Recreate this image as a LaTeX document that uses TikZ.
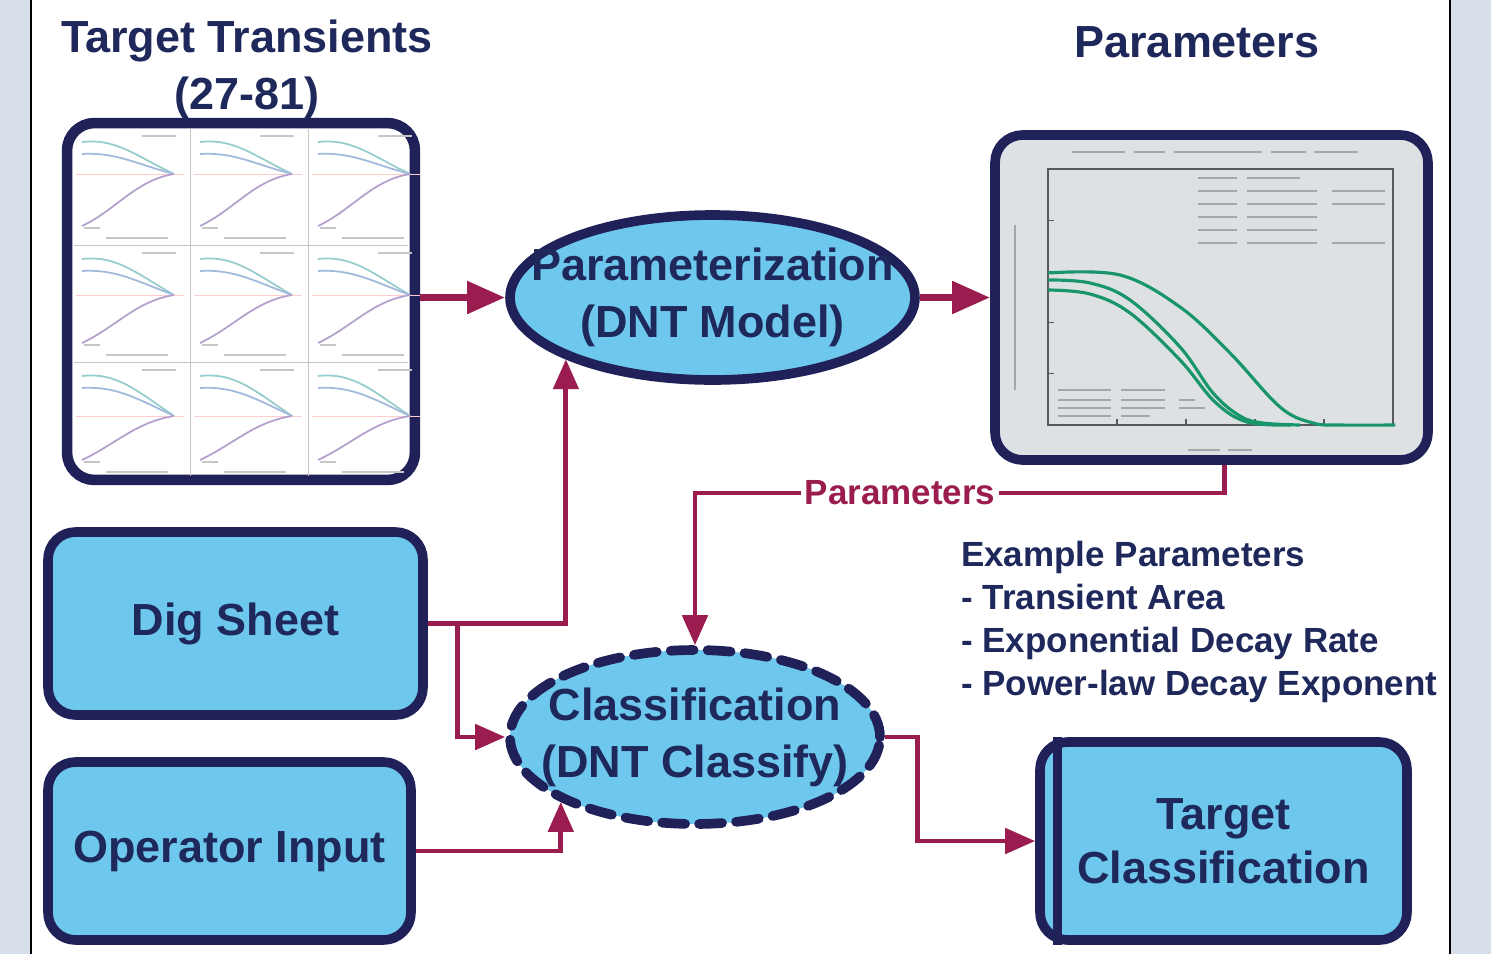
\documentclass[tikz,border=0pt]{standalone}
\usepackage{fontspec}
\setmainfont{Liberation Sans}
\usetikzlibrary{arrows.meta,shapes.geometric,calc}
\definecolor{navy}{RGB}{31,33,88}
\definecolor{txtnavy}{RGB}{30,40,90}
\definecolor{boxfill}{RGB}{110,200,238}
\definecolor{maroon}{RGB}{155,28,78}
\definecolor{bandgray}{RGB}{214,222,234}
\definecolor{plotgray}{RGB}{222,225,228}
\definecolor{curvegreen}{RGB}{25,150,105}
\definecolor{thumbteal}{RGB}{150,205,205}
\definecolor{thumbblue}{RGB}{160,185,220}
\definecolor{thumbpurple}{RGB}{180,160,205}
\begin{document}
\begin{tikzpicture}[x=0.02cm,y=-0.02cm,
  box/.style={draw=navy, line width=5.5pt, fill=boxfill, rounded corners=0.55cm, inner sep=0pt},
  big/.style={text=txtnavy, font=\fontsize{25.6}{32.4}\selectfont\bfseries},
  mid/.style={text=txtnavy, font=\fontsize{19.9}{24.5}\selectfont\bfseries},
  mainarrow/.style={draw=maroon, line width=4.5pt, -{Triangle[length=0.76cm,width=0.62cm]}},
  conn/.style={draw=maroon, line width=2.8pt},
  connarrow/.style={conn, -{Triangle[length=0.6cm,width=0.5cm]}},
  faint/.style={draw=gray!45, line width=0.5pt},
  textline/.style={draw=gray!70, line width=1.6pt}
]
\useasboundingbox (0,0) rectangle (1491,954);
% background
\fill[white] (0,0) rectangle (1491,954);
\fill[bandgray] (0,0) rectangle (31,954);
\fill[bandgray] (1450,0) rectangle (1491,954);
\draw[black, line width=1.2pt] (31,0) -- (31,954);
\draw[black, line width=1.2pt] (1450,0) -- (1450,954);

% titles
\node[big, align=center] (ttitle) at (247,69) {Target Transients\\(27-81)};
\node[big] (ptitle) at (1197,42) {Parameters};

% transients box with thumbnails
\node[box, fill=white, line width=6pt, minimum width=6.96cm, minimum height=7.14cm] (trans) at (241,301.5) {};
\draw[faint] (190,128) -- (190,476);
\draw[faint] (308,128) -- (308,476);
\draw[faint] (74,245) -- (408,245);
\draw[faint] (74,362) -- (408,362);
\foreach \r in {0,1,2}{
  \foreach \c in {0,1,2}{
    \pgfmathsetmacro{\xo}{76+\c*118}
    \pgfmathsetmacro{\yo}{130+\r*117}
    \pgfmathsetmacro{\ym}{\yo+44+\r*4}
    \draw[draw=red!20, line width=0.5pt] (\xo,\ym) -- ({\xo+108},\ym);
    \draw[thumbteal, line width=1pt] ({\xo+6},{\yo+12}) .. controls ({\xo+40},{\yo+8}) and ({\xo+60},{\yo+26}) .. ({\xo+98},\ym);
    \draw[thumbblue, line width=1pt] ({\xo+6},{\yo+24}) .. controls ({\xo+40},{\yo+22}) and ({\xo+60},{\yo+34}) .. ({\xo+98},\ym);
    \draw[thumbpurple, line width=1pt] ({\xo+6},{\yo+96}) .. controls ({\xo+40},{\yo+80}) and ({\xo+60},{\ym+6}) .. ({\xo+98},\ym);
    \draw[gray!45, line width=1pt] ({\xo+8},{\yo+98}) -- ({\xo+24},{\yo+98});
    \draw[gray!45, line width=1pt] ({\xo+30},{\yo+108}) -- ({\xo+92},{\yo+108});
    \draw[gray!45, line width=1pt] ({\xo+66},{\yo+6}) -- ({\xo+100},{\yo+6});
  }
}

% parameterization ellipse
\node[ellipse, draw=navy, line width=5.5pt, fill=boxfill, minimum width=8.1cm, minimum height=3.3cm, inner sep=0pt] (param) at (712.5,297.5) {};
\node[big, align=center] (paramtxt) at (param) {Parameterization\\(DNT Model)};

% parameters plot box
\node[box, fill=plotgray, minimum width=8.66cm, minimum height=6.5cm] (pbox) at (1211.5,297.5) {};
\draw[gray!70!black, line width=0.7pt] (1048,169) rectangle (1393,425);
\foreach \t in {0,1,2,3,4,5}{
  \draw[gray!70!black, line width=0.6pt] ({1048+\t*69},425) -- ({1048+\t*69},419);
}
\foreach \t in {0,1,2,3,4,5}{
  \draw[gray!70!black, line width=0.6pt] (1048,{169+\t*51.2}) -- (1054,{169+\t*51.2});
}
\draw[textline, dash pattern=on 30 off 5 on 18 off 5 on 50 off 5 on 20 off 5 on 45 off 5 on 30 off 5 on 40] (1072,152) -- (1358,152);
\foreach \yy/\xe in {178/1300,191/1385,204/1385,217/1325,230/1325,243/1385}{
  \draw[textline, line width=1.2pt, dash pattern=on 22 off 6 on 40 off 8 on 40 off 8 on 40] (1198,\yy) -- (\xe,\yy);
}
\foreach \yy/\xe in {390/1165,400/1195,408/1205,416/1150}{
  \draw[textline, line width=1.2pt, dash pattern=on 30 off 6 on 25 off 8 on 25 off 8 on 40] (1058,\yy) -- (\xe,\yy);
}
\draw[textline, line width=1.2pt] (1015,225) -- (1015,390);
\draw[textline, line width=1.2pt, dash pattern=on 18 off 5 on 40] (1188,450) -- (1252,450);
\draw[curvegreen, line width=1.8pt] plot[smooth, tension=0.6] coordinates {(1048,273) (1120,275) (1180,307) (1230,353) (1280,407) (1313,423) (1340,425) (1395,425)};
\draw[curvegreen, line width=1.8pt] plot[smooth, tension=0.6] coordinates {(1048,280) (1090,283) (1130,300) (1180,347) (1213,393) (1240,416) (1263,423) (1300,425)};
\draw[curvegreen, line width=1.8pt] plot[smooth, tension=0.6] coordinates {(1048,290) (1090,294) (1130,313) (1180,360) (1215,402) (1247,422) (1290,425)};

% left boxes
\node[box, big, minimum width=7.5cm, minimum height=3.66cm] (dig) at (235.5,623.5) {Dig Sheet};
\node[box, big, minimum width=7.26cm, minimum height=3.56cm] (op) at (229.5,851) {Operator Input};

% classification ellipse
\node[ellipse, draw=navy, line width=5.5pt, fill=boxfill, dash pattern=on 0.46cm off 0.28cm, line cap=round, minimum width=7.4cm, minimum height=3.48cm, inner sep=0pt] (cls) at (695,737) {};
\node[big, align=center] (clstxt) at (cls) {Classification\\(DNT Classify)};

% target classification box
\node[box, big, align=center, minimum width=7.34cm, minimum height=3.96cm, font=\fontsize{25.6}{30.7}\selectfont\bfseries] (tc) at (1223.5,841) {Target\\Classification};
\draw[navy, line width=5pt] ($(tc.north west)+(22,0)$) -- ($(tc.south west)+(22,0)$);

% example parameters
\node[mid, align=left, anchor=west] (expar) at (955,622) {Example Parameters\\- Transient Area\\- Exponential Decay Rate\\- Power-law Decay Exponent};

% connectors
\draw[mainarrow] (trans.east |- param.west) -- (param.west);
\draw[mainarrow] (param.east) -- (pbox.west);
\node[text=maroon, font=\fontsize{19.9}{24}\selectfont\bfseries, fill=white, inner sep=2pt] (plab) at (900,493) {Parameters};
\draw[conn] ($(pbox.south)+(13,0)$) |- (plab.east);
\draw[connarrow] (plab.west) -| (cls.north);
\draw[connarrow] (dig.east) -| (param.south west);
\draw[connarrow] (dig.east) -- ++(30,0) |- (cls.west);
\draw[connarrow] (op.east) -| (cls.south west);
\draw[connarrow] (cls.east) -- ++(33,0) |- (tc.west);
\end{tikzpicture}
\end{document}
